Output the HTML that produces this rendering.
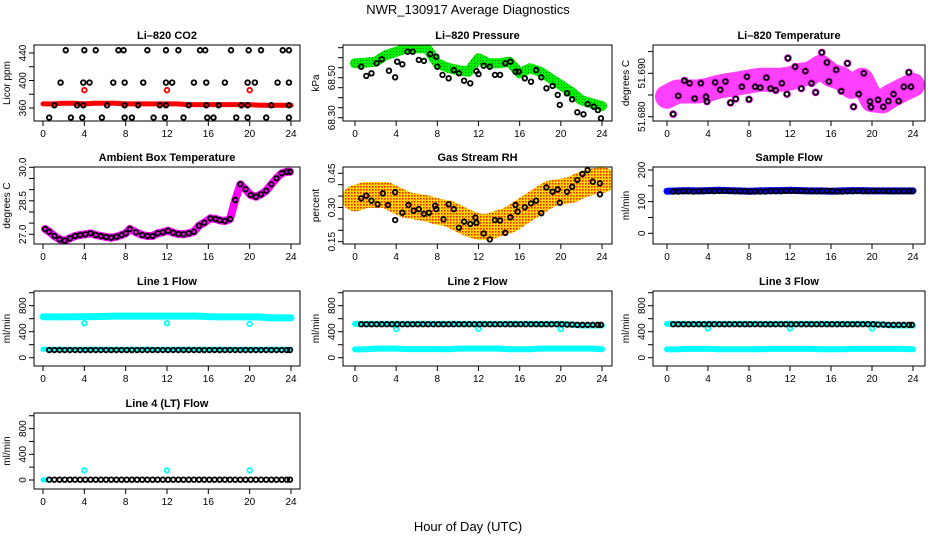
<!DOCTYPE html>
<html><head><meta charset="utf-8">
<style>
html,body{margin:0;padding:0;background:#fff;}
svg{display:block;font-family:"Liberation Sans",Arial,sans-serif;}
</style></head>
<body>
<svg id="chart" width="936" height="540" viewBox="0 0 936 540">
<defs>
<pattern id="rhdots" width="3" height="3" patternUnits="userSpaceOnUse">
<rect width="3" height="3" fill="#ffd800"/>
<rect x="0" y="0" width="1.6" height="1.6" fill="#ff2000"/>
</pattern>
<pattern id="gdots" width="3" height="3" patternUnits="userSpaceOnUse">
<rect width="3" height="3" fill="#00ee00"/>
<rect x="0" y="0" width="1" height="1" fill="#008800"/>
</pattern>
</defs>
<rect width="936" height="540" fill="#fff"/>
<text x="468" y="14" text-anchor="middle" font-size="13">NWR_130917  Average Diagnostics</text>
<text x="468" y="531" text-anchor="middle" font-size="13">Hour of Day (UTC)</text>
</svg>
<script>
// ---- data ----
const hourTicks = [0,4,8,12,16,20,24];
const bandHours = [0,1,2,3,4,5,6,7,8,9,10,11,12,13,14,15,16,17,18,19,20,21,22,23,24];
const blackHours = [0.6,1.1,1.6,2.1,2.6,3.1,3.6,4.1,4.6,5.1,5.6,6.1,6.6,7.1,7.6,8.1,8.6,9.1,9.6,10.1,10.6,11.1,11.6,12.1,12.6,13.1,13.6,14.1,14.6,15.1,15.6,16.1,16.6,17.1,17.6,18.1,18.6,19.1,19.6,20.1,20.6,21.1,21.6,22.1,22.6,23.1,23.6,23.9];
const outlierHours = [4,12,20];

// CO2
const co2Hours = [2.2,4,5.1,7.3,7.8,10.1,11.9,13.1,15.2,15.7,18.2,19.9,21.1,23.2,23.8,
 1.7,3.9,4.5,6.8,7.9,9.7,11.9,12.5,14.6,15.8,17.6,19.8,20.5,22.7,23.8,
 1.1,3.3,3.9,6.2,7.9,9.2,11.3,11.9,14.1,15.8,17,19.2,19.8,22.1,23.8,
 0.6,2.7,3.8,5.7,7.9,8.6,10.7,11.8,13.6,15.9,16.5,18.7,19.8,21.6,23.8];
const co2Values = [444,444,444,444,444,444,444,444,444,444,444,444,444,444,444,
 397,397,397,397,397,397,397,397,397,397,397,397,397,397,397,
 364,364,364,364,364,364,364,364,364,364,364,364,364,364,364,
 346,346,346,346,346,346,346,346,346,346,346,346,346,346,346];
const co2Band = [366,366,367,367,366,367,367,367,366,366,366,366,366,366,365,365,365,365,365,365,365,364,364,364,364];
const co2Outliers = [386,386,386];

// Pressure
const presBand = [68.572,68.575,68.58,68.613,68.63,68.647,68.647,68.647,68.572,68.55,68.538,68.53,68.597,68.572,68.572,68.58,68.522,68.547,68.53,68.497,68.463,68.43,68.388,68.372,68.358];
const presHours = [0.6,1.1,1.6,2.1,2.6,3.3,3.9,4.1,4.6,5.1,5.6,6.2,6.7,7.3,7.9,8.0,8.5,9.1,9.6,10.1,10.6,11.2,11.8,12.0,12.5,13.1,13.6,14.1,14.6,15.1,15.6,15.9,16.5,17.1,17.6,18.1,18.6,19.2,19.7,19.9,20.6,21.1,21.6,22.2,22.6,23.2,23.6,23.9];
const presValues = [68.555,68.509,68.522,68.572,68.592,68.535,68.502,68.580,68.567,68.630,68.630,68.589,68.584,68.618,68.605,68.555,68.514,68.497,68.538,68.522,68.485,68.472,68.533,68.518,68.560,68.555,68.514,68.514,68.572,68.580,68.530,68.530,68.497,68.480,68.538,68.502,68.447,68.459,68.414,68.364,68.422,68.392,68.327,68.317,68.368,68.355,68.338,68.297];

// Li-820 temperature
const tempBand = [51.6846,51.6858,51.6858,51.6858,51.6862,51.6869,51.6873,51.6877,51.6881,51.6885,51.6885,51.6885,51.6888,51.6896,51.6900,51.6915,51.6896,51.6888,51.6869,51.6885,51.6838,51.6835,51.6850,51.6862,51.6873];
const tempHours = [0.6,1.1,1.7,2.2,2.7,3.3,3.8,3.9,4.7,5.2,5.7,6.2,6.7,7.3,7.8,8.0,8.6,9.1,9.7,10.1,10.6,11.2,11.7,11.8,12.5,13.1,13.5,14.1,14.5,15.1,15.6,15.8,16.5,17.0,17.6,18.2,18.7,19.2,19.8,19.9,20.6,21.1,21.6,22.1,22.6,23.1,23.6,23.8];
const tempValues = [51.6806,51.6848,51.6883,51.6877,51.6842,51.6877,51.6846,51.6835,51.6879,51.6862,51.6881,51.6832,51.6841,51.6869,51.6892,51.6840,51.6869,51.6867,51.6890,51.6865,51.6861,51.6877,51.6852,51.6935,51.6915,51.6865,51.6905,51.6877,51.6856,51.6948,51.6925,51.6881,51.6908,51.6859,51.6923,51.6823,51.6852,51.6900,51.6835,51.6822,51.6839,51.6823,51.6836,51.6852,51.6836,51.6869,51.6902,51.6869];

// Ambient box temperature
const ambHours = [0.2,0.6,1.1,1.6,2.1,2.6,3.1,3.6,4.1,4.6,5.1,5.6,6.1,6.6,7.1,7.6,8.0,8.4,9.0,9.6,10.1,10.6,11.1,11.6,12.1,12.6,13.1,13.6,14.1,14.6,15.1,15.6,16.2,16.7,17.1,17.6,18.1,18.6,19.1,19.6,20.1,20.6,21.1,21.6,22.1,22.6,23.1,23.6,23.9];
const ambValues = [27.237,27.116,26.924,26.776,26.713,26.821,26.924,26.969,27.0,27.045,26.969,26.924,26.879,26.848,26.893,26.969,27.045,27.237,27.090,26.969,26.924,26.924,27.045,27.090,27.161,27.072,27.013,27.0,27.045,27.116,27.385,27.519,27.717,27.685,27.627,27.596,27.685,28.536,29.239,29.015,28.760,28.684,28.791,28.953,29.239,29.508,29.732,29.803,29.803];

// Gas stream RH
const rhBand = [0.340,0.355,0.355,0.355,0.333,0.311,0.304,0.296,0.282,0.275,0.253,0.231,0.216,0.216,0.231,0.245,0.275,0.304,0.333,0.362,0.369,0.377,0.399,0.413,0.421];
const rhHours = [0.6,1.1,1.6,2.2,2.7,3.2,3.9,3.9,4.6,5.2,5.7,6.2,6.7,7.2,7.8,7.9,8.6,9.1,9.6,10.1,10.6,11.2,11.7,11.8,12.5,13.1,13.6,14.1,14.6,15.1,15.6,15.8,16.5,17.1,17.6,18.1,18.6,19.2,19.7,19.9,20.6,21.1,21.6,22.1,22.6,23.1,23.8,23.8];
const rhValues = [0.340,0.352,0.330,0.314,0.362,0.311,0.367,0.245,0.277,0.311,0.286,0.293,0.272,0.277,0.308,0.293,0.248,0.314,0.293,0.211,0.238,0.228,0.256,0.233,0.186,0.160,0.245,0.243,0.189,0.257,0.311,0.282,0.301,0.318,0.330,0.275,0.388,0.369,0.379,0.321,0.369,0.391,0.421,0.447,0.464,0.413,0.406,0.358];

// Sample flow
const sampleBand = [133,134,135,134,135,136,135,134,133,134,135,135,136,135,134,134,133,134,135,135,134,134,134,134,134];
const sampleValues = [132,132,133,133,132,133,133,134,133,134,134,134,133,133,133,132,132,132,132,133,133,133,134,134,134,134,133,133,133,133,134,134,132,132,133,133,134,133,133,134,134,134,133,133,133,133,133,133];

// Line 1 flow
const line1High = [630,628,628,630,632,632,636,640,640,640,640,640,640,640,640,640,632,628,628,628,628,626,612,612,612];
const line1Low = [130,130,130,130,130,130,130,130,130,130,130,130,130,130,130,130,130,130,130,130,130,130,130,130,130];
const line1Black = [118,118,118,118,118,118,118,118,118,118,118,118,118,118,118,118,118,118,118,118,118,118,118,118,118,118,118,118,118,118,118,118,118,118,118,118,118,118,118,118,118,118,118,118,118,118,118,118];
const line1Outliers = [530,530,520];

// Line 2 flow
const line2High = [520,520,520,520,520,520,520,520,520,520,520,520,520,520,520,520,520,520,520,520,520,510,495,495,495];
const line2Low = [128,130,140,140,140,132,132,132,132,130,140,140,140,140,140,130,130,130,140,140,140,140,140,140,130];
const line2Black = [515,515,515,515,515,515,515,515,515,515,515,515,515,515,515,515,515,515,515,515,515,515,515,515,515,515,515,515,515,515,515,515,515,515,515,515,515,515,515,515,510,510,505,505,505,505,505,505];
const line2Outliers = [440,445,440];

// Line 3 flow
const line3High = [520,520,520,520,520,520,520,520,520,520,520,520,520,520,520,520,520,520,520,520,520,510,495,495,495];
const line3Low = [128,130,135,135,135,130,130,130,130,130,135,135,135,135,135,130,130,130,135,135,135,135,135,135,130];
const line3Black = [515,515,515,515,515,515,515,515,515,515,515,515,515,515,515,515,515,515,515,515,515,515,515,515,515,515,515,515,515,515,515,515,515,515,515,515,515,515,515,515,510,510,505,505,505,505,505,505];
const line3Outliers = [450,450,450];

// Line 4 (LT) flow
const line4Low = [2,2];
const line4LowHours = [0,0.3];
const line4Black = [5,5,5,5,5,5,5,5,5,5,5,5,5,5,5,5,5,5,5,5,5,5,5,5,5,5,5,5,5,5,5,5,5,5,5,5,5,5,5,5,5,5,5,5,5,5,5,5];
const line4Outliers = [150,150,150];

// ---- drawing ----
const svg = document.getElementById('chart');
const NS = 'http://www.w3.org/2000/svg';
const BOX_L = [34,343,653], BOX_R = [300,612,925];
const X0 = [43,355,667], X24 = [291,602,913];
const BOX_T = [45,167,291,413], BOX_B = [121,244,366,489];

function mk(tag, attrs, parent){
  const e = document.createElementNS(NS, tag);
  for (const k in attrs) e.setAttribute(k, attrs[k]);
  (parent||svg).appendChild(e);
  return e;
}

function panel(key, col, row, title, ylab, v0, p0, v1, p1, ticks, labels){
  const g = mk('g', {});
  
  
  const L = BOX_L[col], R = BOX_R[col], T = BOX_T[row], B = BOX_B[row];
  const sx = h => X0[col] + h*(X24[col]-X0[col])/24;
  const sy = v => p0 + (v-v0)*(p1-p0)/(v1-v0);
  const t = mk('text', {x:(L+R)/2, y:T-6, 'text-anchor':'middle', 'font-size':'11', 'font-weight':'bold'}, g);
  t.textContent = title;
  
  
  const yl = mk('text', {x:0, y:0, transform:`translate(${L-24},${(T+B)/2}) rotate(-90)`, 'text-anchor':'middle', 'font-size':'10'}, g);
  yl.textContent = ylab;
  
  
  const xa = mk('g', {}, g);
  
  
  hourTicks.forEach(h => {
    mk('line', {x1:sx(h), x2:sx(h), y1:B, y2:B+5, stroke:'#000', 'stroke-width':1}, xa);
    const tl = mk('text', {x:sx(h), y:B+16, 'text-anchor':'middle', 'font-size':'10'}, xa);
    tl.textContent = h;
    
    
  });
  const ya = mk('g', {}, g);
  
  
  ticks.forEach(v => {
    mk('line', {x1:L-5, x2:L, y1:sy(v), y2:sy(v), stroke:'#000', 'stroke-width':1}, ya);
  });
  labels.forEach(s => {
    const tl = mk('text', {x:0, y:0, transform:`translate(${L-8},${sy(parseFloat(s))}) rotate(-90)`, 'text-anchor':'middle', 'font-size':'10'}, ya);
    tl.textContent = s;
    
    
  });
  const plot = mk('g', {}, g);
  
  
  const clip = 'clip-' + key;
  const cp = mk('clipPath', {id:clip}, g);
  mk('rect', {x:L, y:T, width:R-L, height:B-T}, cp);
  plot.setAttribute('clip-path', `url(#${clip})`);
  mk('rect', {x:L, y:T, width:R-L, height:B-T, fill:'none', stroke:'#000', 'stroke-width':1}, g);
  return {
    band(hours, vals, color, w, name, op){
      const d = hours.map((h,i)=>(i?'L':'M')+sx(h).toFixed(1)+','+sy(vals[i]).toFixed(1)).join('');
      const p = mk('path', {d, fill:'none', stroke:color, 'stroke-width':w, 'stroke-linecap':'round', 'stroke-linejoin':'round', 'stroke-opacity':op||1}, plot);
      
      
    },
    pts(hours, vals, color, name, r, sw){
      const pg = mk('g', {}, plot);
      
      
      hours.forEach((h,i) => {
        const c = mk('circle', {cx:sx(h), cy:sy(vals[i]), r:r||2.3, fill:'none', stroke:color, 'stroke-width':sw||1.8}, pg);
        
        
      });
    }
  };
}

// Row 1
let p = panel('co2', 0, 0, 'Li\u2013820 CO2', 'Licor ppm', 360, 108, 440, 53, [360,380,400,420,440], ['360','400','440']);
p.band(bandHours, co2Band, '#ff0000', 5, 'co2-licor-series');
p.pts(outlierHours, co2Outliers, '#ff0000', 'co2-red-outliers');
p.pts(co2Hours, co2Values, '#000', 'co2-black-series');

p = panel('pressure', 1, 0, 'Li\u2013820 Pressure', 'kPa', 68.30, 117.7, 68.50, 77.7, [68.30,68.35,68.40,68.45,68.50,68.55,68.60,68.65], ['68.30','68.50']);
p.band(bandHours, presBand, 'url(#gdots)', 10, 'pressure-green-series');
p.pts(presHours, presValues, '#000', 'pressure-black-series');

p = panel('li820-temp', 2, 0, 'Li\u2013820 Temperature', 'degrees C', 51.680, 116.7, 51.690, 73.3, [51.680,51.685,51.690,51.695], ['51.680','51.690']);
p.band(bandHours, tempBand, '#ff00ff', 24, 'temperature-magenta-series', 0.75);
p.pts(tempHours, tempValues, '#ff00ff', 'temperature-magenta-points', 3, 1.8);
p.pts(tempHours, tempValues, '#000', 'temperature-black-series');

// Row 2
p = panel('ambient', 0, 1, 'Ambient Box Temperature', 'degrees C', 27.0, 234.3, 30.0, 167.3, [27.0,27.5,28.0,28.5,29.0,29.5,30.0], ['27.0','28.5','30.0']);
p.band(ambHours, ambValues, '#ff00ff', 8, 'ambient-magenta-series');
p.pts(ambHours, ambValues, '#000', 'ambient-black-series');

p = panel('rh', 1, 1, 'Gas Stream RH', 'percent', 0.15, 241.7, 0.45, 173.3, [0.15,0.20,0.25,0.30,0.35,0.40,0.45], ['0.15','0.30','0.45']);
p.band(bandHours, rhBand, 'url(#rhdots)', 26, 'rh-dotted-series');
p.pts(rhHours, rhValues, '#000', 'rh-black-series');

p = panel('sample-flow', 2, 1, 'Sample Flow', 'ml/min', 0, 233.3, 200, 170, [0,50,100,150,200], ['0','100','200']);
p.band(bandHours, sampleBand, '#0000ff', 7, 'sample-flow-blue-series');
p.pts(blackHours, sampleValues, '#000', 'sample-flow-black-series');

// Row 3
const flowTicks = [0,200,400,600,800,1000], flowLabels = ['0','400','800'];
p = panel('line1', 0, 2, 'Line 1 Flow', 'ml/min', 0, 357.7, 400, 331.7, flowTicks, flowLabels);
p.band(bandHours, line1High, '#00ffff', 7, 'line1-cyan-high-series');
p.band(bandHours, line1Low, '#00ffff', 5, 'line1-cyan-low-series');
p.pts(outlierHours, line1Outliers, '#00ffff', 'line1-cyan-outliers');
p.pts(blackHours, line1Black, '#000', 'line1-black-series');

p = panel('line2', 1, 2, 'Line 2 Flow', 'ml/min', 0, 357.7, 400, 331.7, flowTicks, flowLabels);
p.band(bandHours, line2High, '#00ffff', 6, 'line2-cyan-high-series');
p.band(bandHours, line2Low, '#00ffff', 6, 'line2-cyan-low-series');
p.pts(outlierHours, line2Outliers, '#00ffff', 'line2-cyan-outliers');
p.pts(blackHours, line2Black, '#000', 'line2-black-series');

p = panel('line3', 2, 2, 'Line 3 Flow', 'ml/min', 0, 357.7, 400, 331.7, flowTicks, flowLabels);
p.band(bandHours, line3High, '#00ffff', 6, 'line3-cyan-high-series');
p.band(bandHours, line3Low, '#00ffff', 6, 'line3-cyan-low-series');
p.pts(outlierHours, line3Outliers, '#00ffff', 'line3-cyan-outliers');
p.pts(blackHours, line3Black, '#000', 'line3-black-series');

// Row 4
p = panel('line4', 0, 3, 'Line 4 (LT) Flow', 'ml/min', 0, 480, 400, 454.3, flowTicks, flowLabels);
p.band(line4LowHours, line4Low, '#00ffff', 5, 'line4-cyan-low-series');
p.pts(outlierHours, line4Outliers, '#00ffff', 'line4-cyan-outliers');
p.pts(blackHours, line4Black, '#000', 'line4-black-series');
</script>
</body></html>
